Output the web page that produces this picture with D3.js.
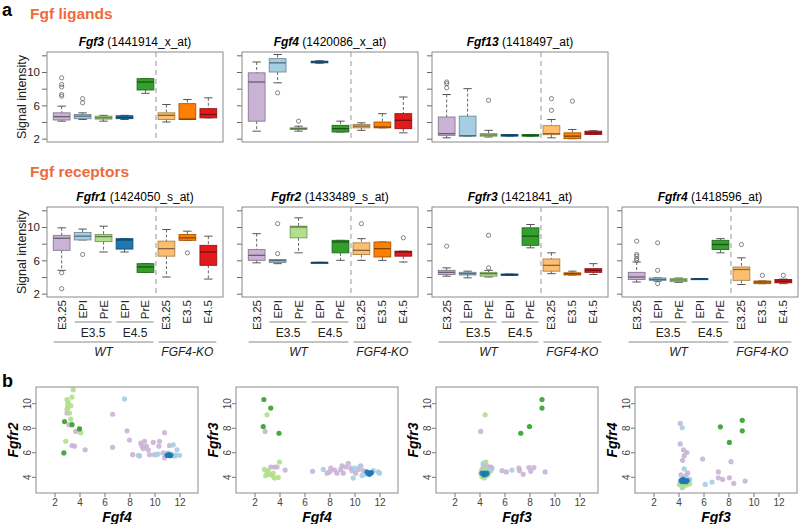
<!DOCTYPE html>
<html><head><meta charset="utf-8">
<script src="https://cdn.jsdelivr.net/npm/d3@7"></script>
<style>body{margin:0;background:#fff} text{font-family:"Liberation Sans",Arial,sans-serif}</style>
</head><body><svg id="c" width="800" height="524"></svg>
<script>
// ---------- DATA ----------
const groupLabels = ["E3.25","EPI","PrE","EPI","PrE","E3.25","E3.5","E4.5"];
const groupColors = ["#CAB2D6","#A6CEE3","#B2DF8A","#1F78B4","#33A02C","#FDBF6F","#FF7F00","#E31A1C"];
const ligandGenes = ["Fgf3","Fgf4","Fgf13"];
const ligandProbes = ["(1441914_x_at)","(1420086_x_at)","(1418497_at)"];
const receptorGenes = ["Fgfr1","Fgfr2","Fgfr3","Fgfr4"];
const receptorProbes = ["(1424050_s_at)","(1433489_s_at)","(1421841_at)","(1418596_at)"];
const boxYTicks = [2,4,6,8,10,12];
const boxYTickLabels = ["2","","6","","10",""];
// box stats: [lowWhisker, q1, median, q3, highWhisker, outliers]
const fgf3Stats = [
  [4.1,4.24,4.64,5.1,5.9,[9.3,8.5,8.2,7.3,7.1]],
  [4.3,4.4,4.7,4.9,5.1,[6.8,6.3]],
  [4.1,4.35,4.5,4.7,4.8,[]],
  [4.3,4.4,4.55,4.75,4.8,[]],
  [7.44,7.84,8.8,9.2,9.2,[]],
  [4.0,4.3,4.8,5.1,6.1,[]],
  [4.3,4.3,4.35,6.2,6.7,[]],
  [4.5,4.5,4.9,5.6,6.9,[]]];
const fgf4Stats = [
  [2.9,4.1,8.8,9.9,11.2,[]],
  [8.7,10.0,11.1,11.6,12.1,[7.5]],
  [2.9,3.1,3.2,3.3,3.5,[4.1]],
  [11.05,11.1,11.2,11.3,11.35,[]],
  [2.8,2.8,3.2,3.6,4.1,[]],
  [3.0,3.3,3.5,3.7,3.9,[]],
  [3.3,3.3,3.4,4.0,5.0,[]],
  [2.7,3.2,4.2,5.0,7.0,[]]];
const fgf13Stats = [
  [2.1,2.4,2.6,4.6,7.3,[8.8,8.6,8.1]],
  [2.3,2.3,2.36,4.7,8.0,[]],
  [2.2,2.3,2.44,2.6,3.0,[6.6]],
  [2.3,2.3,2.4,2.5,2.5,[]],
  [2.3,2.3,2.38,2.5,2.5,[]],
  [2.1,2.48,2.6,3.56,4.3,[6.8,5.4]],
  [2.0,2.0,2.3,2.7,3.1,[6.5]],
  [2.5,2.5,2.7,2.9,2.95,[]]];
const fgfr1Stats = [
  [4.8,7.2,8.65,9.0,9.9,[4.5,2.6]],
  [8.45,8.45,8.9,9.35,9.75,[6.7]],
  [7.0,8.25,8.85,9.1,10.1,[]],
  [7.0,7.35,8.45,8.6,8.6,[]],
  [4.55,4.55,5.2,5.6,5.6,[]],
  [4.0,6.5,7.4,8.3,9.7,[]],
  [8.4,8.4,8.7,9.1,9.5,[6.9]],
  [3.75,5.4,7.0,7.8,8.9,[]]];
const fgfr2Stats = [
  [5.7,6.0,6.6,7.3,9.2,[]],
  [5.6,5.75,5.96,6.1,6.1,[10.4,6.8]],
  [6.9,8.7,10.0,10.1,11.1,[]],
  [5.75,5.75,5.75,5.75,5.75,[]],
  [6.0,6.9,8.2,8.4,8.4,[]],
  [6.0,6.7,7.2,8.1,8.6,[10.4]],
  [6.0,6.4,7.4,8.2,8.2,[]],
  [5.8,6.5,7.0,7.1,7.1,[8.7]]];
const fgfr3Stats = [
  [4.1,4.3,4.56,4.8,5.1,[7.7]],
  [3.9,4.24,4.4,4.56,4.7,[]],
  [4.0,4.1,4.4,4.56,4.8,[9.0,5.1]],
  [4.2,4.2,4.28,4.36,4.36,[]],
  [7.5,7.8,8.9,9.9,10.3,[]],
  [4.4,4.7,5.4,6.16,6.9,[]],
  [4.24,4.24,4.4,4.5,4.7,[]],
  [4.3,4.56,4.8,5.0,5.6,[]]];
const fgfr4Stats = [
  [3.4,3.7,4.0,4.56,5.8,[8.3,6.7,6.5,6.2,6.0]],
  [3.5,3.6,3.7,3.88,3.9,[8.1,4.8,3.2]],
  [3.36,3.44,3.64,3.8,3.88,[]],
  [3.7,3.72,3.76,3.8,3.82,[]],
  [6.9,7.3,7.9,8.4,8.6,[]],
  [3.1,3.6,4.9,5.2,6.3,[7.9]],
  [3.2,3.2,3.4,3.52,3.52,[4.2]],
  [3.2,3.3,3.5,3.7,3.75,[4.2]]];

// scatter: points per WT group [E3.25, EPI E3.5, PrE E3.5, EPI E4.5, PrE E4.5]
const scatterXGenes = ["Fgf4","Fgf4","Fgf3","Fgf3"];
const scatterYGenes = ["Fgfr2","Fgfr3","Fgfr3","Fgfr4"];
const scatterXTicks = [2,4,6,8,10,12];
const scatterYTicks = [4,6,8,10];
const fgf4Fgfr2 = [
  [[3.0,9.2],[3.15,8.25],[3.7,7.7],[3.4,6.55],[3.6,6.5],[4.45,6.2],[6.65,9.1],[6.65,6.4],[7.8,7.75],[8.0,7.0],[8.25,5.8],[8.8,5.7],[8.9,6.75],[9.2,6.9],[9.35,6.5],[9.1,6.3],[9.5,6.2],[9.9,6.8],[10.4,6.9],[10.35,6.5],[10.0,5.8],[9.6,5.8],[10.8,7.6],[10.7,5.95],[10.8,5.55],[11.2,6.55],[9.0,6.5],[3.05,9.6]],
  [[7.6,10.35],[11.5,6.6],[11.8,6.2],[12.0,5.75],[11.7,5.75],[10.1,5.8],[10.3,5.85],[10.9,5.9],[11.1,5.95],[11.4,5.85],[8.7,5.75],[11.6,5.7]],
  [[3.5,11.1],[3.4,10.5],[3.0,10.3],[3.1,10.1],[3.05,9.9],[3.3,9.8],[3.0,9.5],[3.2,9.2],[3.3,8.7],[4.1,7.6],[2.9,6.9],[4.0,7.9]],
  [[11.0,5.75],[11.1,5.75],[11.2,5.75],[11.3,5.75],[11.15,5.8],[11.25,5.72]],
  [[2.8,8.5],[3.4,8.25],[4.0,7.9],[2.75,5.95]]];
const fgf4Fgfr3 = [
  [[2.85,7.7],[3.3,4.8],[3.6,4.8],[3.8,4.8],[4.45,4.55],[6.65,4.45],[8.1,4.7],[8.0,4.4],[8.4,4.55],[8.9,4.6],[9.1,4.3],[9.3,4.8],[9.5,5.1],[9.8,4.5],[10.3,4.6],[10.5,4.9],[10.7,4.5],[8.6,4.3],[9.7,4.7],[10.1,4.3],[7.8,4.3],[9.0,4.9]],
  [[7.5,4.6],[9.9,3.9],[10.0,4.7],[10.4,4.8],[10.9,4.2],[11.9,4.4],[12.0,4.3],[11.5,4.5],[10.6,4.1]],
  [[3.0,9.05],[4.0,5.2],[2.8,4.6],[3.0,4.4],[3.2,4.2],[3.4,4.1],[3.6,3.9],[3.9,3.95],[3.1,4.5],[3.5,4.3],[2.9,4.1]],
  [[11.0,4.4],[11.1,4.3],[11.3,4.3],[11.2,4.2],[11.35,4.35]],
  [[2.75,10.3],[3.3,9.6],[2.7,8.1],[3.96,7.55]]];
const fgf3Fgfr3 = [
  [[4.1,7.7],[5.8,4.5],[6.15,4.4],[7.15,4.7],[7.2,4.5],[7.5,4.2],[7.95,4.75],[8.1,4.45],[8.35,4.75],[9.25,4.4],[4.3,5.0],[4.9,4.8],[4.6,4.9],[4.2,4.6],[4.8,4.5],[5.0,4.7],[4.4,4.8]],
  [[6.6,4.55],[4.3,4.7],[4.5,4.6],[4.6,4.4],[4.2,4.3],[4.7,4.2],[4.4,4.5],[4.9,4.5],[4.3,5.1]],
  [[4.45,9.05],[4.2,4.0],[4.4,3.9],[4.6,4.1],[4.3,4.5],[4.5,4.3],[4.1,4.3],[4.7,4.4],[4.5,5.2],[4.4,4.6],[4.2,4.2]],
  [[4.2,4.3],[4.4,4.3],[4.5,4.2],[4.35,4.15],[4.6,4.3]],
  [[9.0,10.3],[9.0,9.6],[8.0,8.1],[7.3,7.55]]];
const fgf3Fgfr4 = [
  [[4.14,8.35],[4.14,6.68],[4.4,6.2],[4.67,5.98],[4.46,5.72],[4.33,5.34],[5.93,5.45],[8.2,5.23],[7.19,4.4],[7.19,3.92],[7.53,3.79],[8.07,3.92],[8.42,3.46],[9.33,3.65],[4.73,4.32],[4.6,4.1],[4.2,4.15],[4.4,3.9]],
  [[4.3,8.0],[4.46,4.64],[6.14,3.38],[6.68,3.57],[4.2,3.7],[4.5,3.5],[4.8,3.6],[4.9,3.8],[4.3,3.1],[4.1,3.4],[4.6,3.9]],
  [[4.1,3.35],[4.3,3.3],[4.5,3.4],[4.7,3.35],[4.9,3.45],[4.4,3.2]],
  [[4.2,3.7],[4.3,3.6],[4.4,3.75],[4.5,3.65],[4.6,3.6],[4.7,3.7],[4.35,3.8]],
  [[7.35,8.07],[9.1,8.6],[9.1,7.75],[8.07,6.8]]];

// ---------- DRAW ----------
const svg = d3.select("#c");
const orange = "#EE6A3B";
const frameColor = "#8a8a8a";

svg.append("text").attr("x",2).attr("y",16).attr("font-size",18).attr("font-weight","bold").text("a");
svg.append("text").attr("x",30).attr("y",19).attr("font-size",15.5).attr("font-weight","bold").attr("fill",orange).text("Fgf ligands");
svg.append("text").attr("x",30).attr("y",177).attr("font-size",15.5).attr("font-weight","bold").attr("fill",orange).text("Fgf receptors");
svg.append("text").attr("x",2).attr("y",387).attr("font-size",18).attr("font-weight","bold").text("b");

const boxW = 176;
const boxLefts = [47,242,432,622];

function boxPanel(x0, y0, y1, stats, gene, probe, showYLabels, showXLabels){
  const g = svg.append("g");
  const xs = d3.scaleLinear().domain([0.3,8.7]).range([x0,x0+boxW]);
  const ys = d3.scaleLinear().domain([1.6,12.4]).range([y1,y0]);
  const ax = g.append("g").attr("transform",`translate(${x0},0)`)
    .call(d3.axisLeft(ys).tickValues(boxYTicks).tickSize(5).tickPadding(2)
      .tickFormat((d,i)=> showYLabels ? boxYTickLabels[i] : ""));
  ax.select(".domain").remove();
  ax.selectAll("line").attr("stroke","#666");
  ax.selectAll("text").attr("font-size",11.5).attr("fill","#222").attr("font-family","Liberation Sans, Arial, sans-serif");
  g.append("line").attr("x1",xs(5.5)).attr("x2",xs(5.5)).attr("y1",y0).attr("y2",y1)
    .attr("stroke","#a8a8a8").attr("stroke-width",1.2).attr("stroke-dasharray","5,4");
  const w = xs(0.8)-xs(0);
  stats.forEach((s,i)=>{
    const cx = xs(i+1);
    const fill = groupColors[i];
    const dark = d3.color(fill).darker(1.1).formatHex();
    const [lo,q1,md,q3,hi,outs] = s;
    g.append("line").attr("x1",cx).attr("x2",cx).attr("y1",ys(hi)).attr("y2",ys(q3)).attr("stroke","#666").attr("stroke-dasharray","3,2");
    g.append("line").attr("x1",cx).attr("x2",cx).attr("y1",ys(q1)).attr("y2",ys(lo)).attr("stroke","#666").attr("stroke-dasharray","3,2");
    g.append("line").attr("x1",cx-w/4).attr("x2",cx+w/4).attr("y1",ys(hi)).attr("y2",ys(hi)).attr("stroke","#555");
    g.append("line").attr("x1",cx-w/4).attr("x2",cx+w/4).attr("y1",ys(lo)).attr("y2",ys(lo)).attr("stroke","#555");
    g.append("rect").attr("x",cx-w/2).attr("width",w).attr("y",ys(q3)).attr("height",Math.max(1,ys(q1)-ys(q3)))
      .attr("fill",fill).attr("stroke",dark).attr("stroke-width",0.9);
    g.append("line").attr("x1",cx-w/2).attr("x2",cx+w/2).attr("y1",ys(md)).attr("y2",ys(md)).attr("stroke",d3.color(fill).darker(1.8)).attr("stroke-width",1.3);
    outs.forEach(o=>{
      g.append("circle").attr("cx",cx).attr("cy",ys(o)).attr("r",2.1).attr("fill","none").attr("stroke","#666").attr("stroke-width",0.8);
    });
  });
  g.append("rect").attr("x",x0).attr("y",y0).attr("width",boxW).attr("height",y1-y0).attr("fill","none").attr("stroke",frameColor);
  const t = g.append("text").attr("x",x0+boxW/2).attr("y",y0-6).attr("text-anchor","middle").attr("font-size",12);
  t.append("tspan").attr("font-weight","bold").attr("font-style","italic").text(gene);
  t.append("tspan").text(" "+probe);
  if(showXLabels){
    groupLabels.forEach((lab,i)=>{
      g.append("text").attr("transform",`translate(${xs(i+1)+4},${y1+3}) rotate(-90)`)
        .attr("text-anchor","end").attr("font-size",11.5).attr("fill","#222").text(lab);
    });
    const lines = [[2,3,322,"E3.5",337,false],[4,5,322,"E4.5",337,false],[1,5,342,"WT",356,true],[6,8,342,"FGF4-KO",356,true]];
    lines.forEach(([a,b,ly,lab,ty,it])=>{
      g.append("line").attr("x1",xs(a)-8).attr("x2",xs(b)+8).attr("y1",ly).attr("y2",ly).attr("stroke","#888");
      g.append("text").attr("x",(xs(a)+xs(b))/2).attr("y",ty).attr("text-anchor","middle").attr("font-size",12)
        .attr("font-style",it?"italic":"normal").attr("fill","#222").text(lab);
    });
  }
}
const ligandStats = [fgf3Stats,fgf4Stats,fgf13Stats];
const receptorStats = [fgfr1Stats,fgfr2Stats,fgfr3Stats,fgfr4Stats];
ligandGenes.forEach((gname,i)=> boxPanel(boxLefts[i],52,142,ligandStats[i],gname,ligandProbes[i],i===0,false));
receptorGenes.forEach((gname,i)=> boxPanel(boxLefts[i],207,297,receptorStats[i],gname,receptorProbes[i],i===0,true));
[97,252].forEach(cy=>{
  svg.append("text").attr("transform",`translate(26,${cy}) rotate(-90)`).attr("text-anchor","middle").attr("font-size",12.5).attr("fill","#222").text("Signal intensity");
});

// scatter panels
const scLefts = [36,236,436,635];
const scW = 162, scTop = 387, scBot = 493;
const scatterData = [fgf4Fgfr2,fgf4Fgfr3,fgf3Fgfr3,fgf3Fgfr4];
const drawOrder = [0,1,2,4,3];
scatterData.forEach((groups,p)=>{
  const x0 = scLefts[p];
  const g = svg.append("g");
  const xs = d3.scaleLinear().domain([0.52,13.48]).range([x0,x0+scW]);
  const ys = d3.scaleLinear().domain([2.68,11.32]).range([scBot,scTop]);
  const axb = g.append("g").attr("transform",`translate(0,${scBot})`).call(d3.axisBottom(xs).tickValues(scatterXTicks).tickSize(4).tickPadding(2));
  axb.select(".domain").remove();
  const axl = g.append("g").attr("transform",`translate(${x0},0)`).call(d3.axisLeft(ys).tickValues(scatterYTicks).tickSize(4).tickPadding(3));
  axl.select(".domain").remove();
  axl.selectAll("text").attr("transform","rotate(-90)").attr("text-anchor","middle").attr("x",0).attr("y",-5).attr("dy","0");
  [axb,axl].forEach(a=>{
    a.selectAll("line").attr("stroke","#777");
    a.selectAll("text").attr("font-size",10).attr("fill","#444").attr("font-family","Liberation Sans, Arial, sans-serif");
  });
  drawOrder.forEach(gi=>{
    g.selectAll(null).data(groups[gi]).enter().append("circle")
      .attr("cx",d=>xs(d[0])).attr("cy",d=>ys(d[1])).attr("r",2.6)
      .attr("fill",groupColors[gi]).attr("fill-opacity",0.9);
  });
  g.append("rect").attr("x",x0).attr("y",scTop).attr("width",scW).attr("height",scBot-scTop).attr("fill","none").attr("stroke",frameColor);
  g.append("text").attr("x",x0+scW/2).attr("y",522).attr("text-anchor","middle").attr("font-size",14)
    .attr("font-weight","bold").attr("font-style","italic").text(scatterXGenes[p]);
  g.append("text").attr("transform",`translate(${x0-18},${(scTop+scBot)/2}) rotate(-90)`).attr("text-anchor","middle").attr("font-size",14)
    .attr("font-weight","bold").attr("font-style","italic").text(scatterYGenes[p]);
});
</script></body></html>
